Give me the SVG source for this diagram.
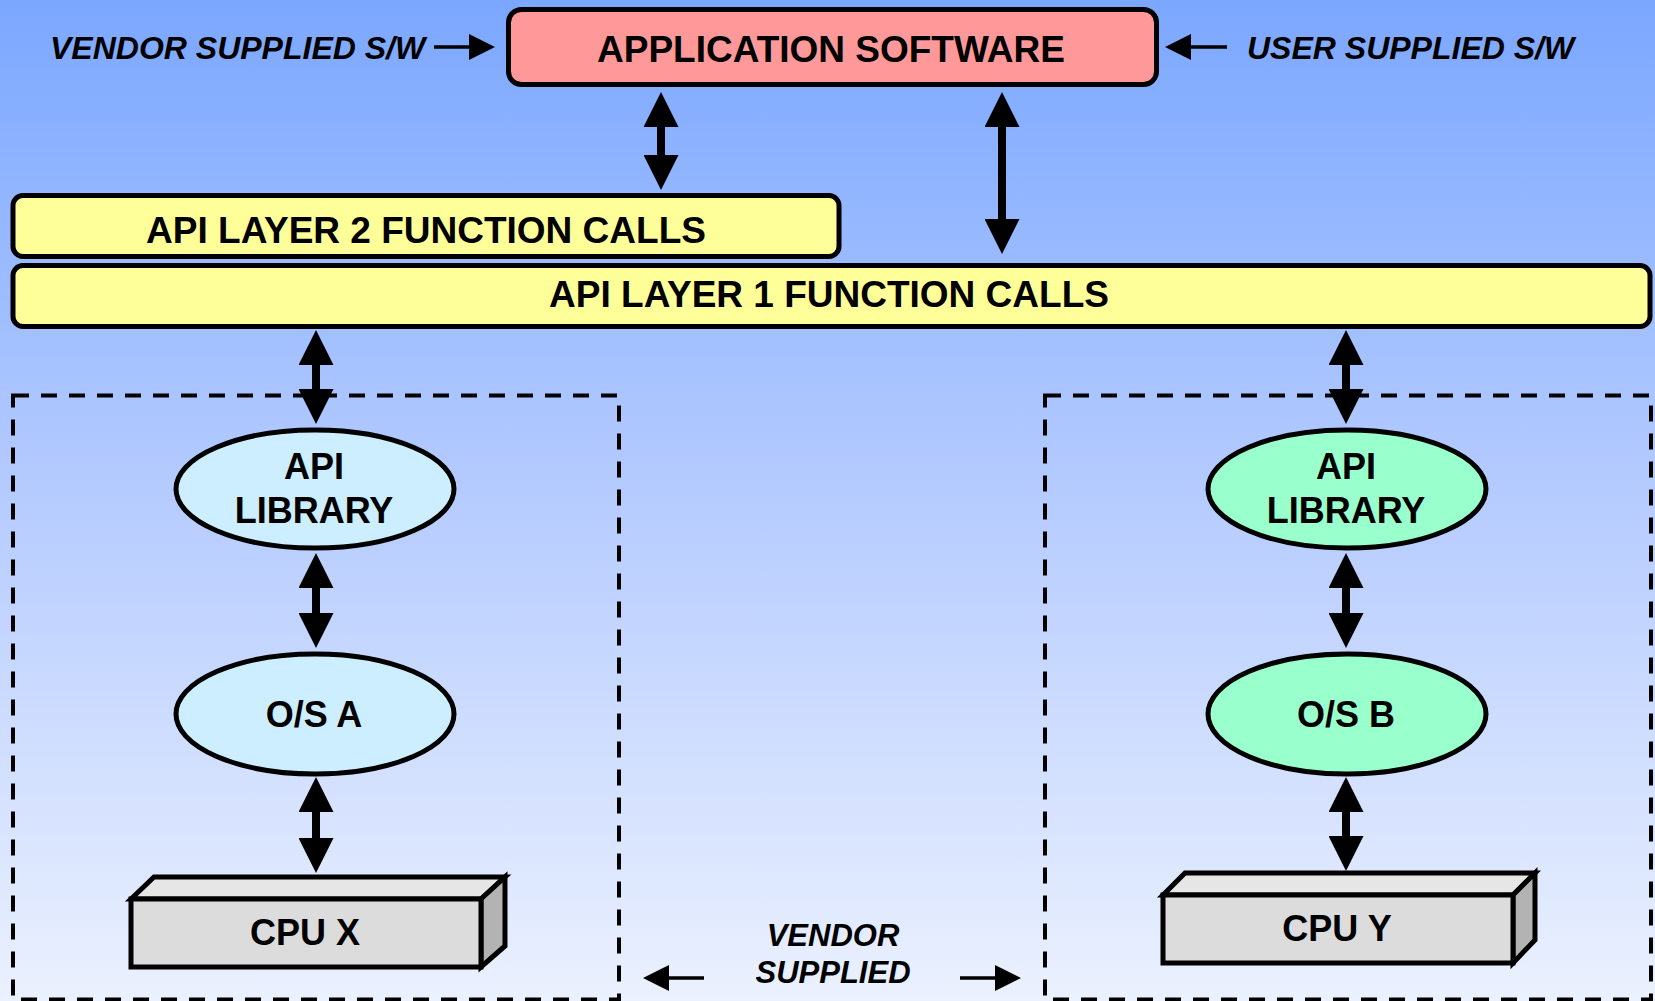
<svg xmlns="http://www.w3.org/2000/svg" width="1655" height="1001" viewBox="0 0 1655 1001">
<defs>
<linearGradient id="bg" x1="0" y1="0" x2="0" y2="1">
<stop offset="0" stop-color="#7ba7ff"/>
<stop offset="0.5" stop-color="#b6ccff"/>
<stop offset="1" stop-color="#ebf1fe"/>
</linearGradient>
<marker id="big" viewBox="0 0 35 35" markerUnits="userSpaceOnUse" markerWidth="35" markerHeight="35" refX="13" refY="17.5" orient="auto-start-reverse">
<path d="M0,0 L35,17.5 L0,35 Z" fill="#000"/>
</marker>
<marker id="small" viewBox="0 0 26 26" markerUnits="userSpaceOnUse" markerWidth="26" markerHeight="26" refX="8" refY="13" orient="auto">
<path d="M0,0 L26,13 L0,26 Z" fill="#000"/>
</marker>
<style>
.t{font-family:"Liberation Sans",Arial,sans-serif;font-weight:bold;fill:#000;text-anchor:middle}
.it{font-family:"Liberation Sans",Arial,sans-serif;font-weight:bold;font-style:italic;fill:#000}
.box{stroke:#000;stroke-width:5}
.dash{fill:none;stroke:#000;stroke-width:4;stroke-dasharray:16 12}
.conn{stroke:#000;stroke-width:8;fill:none;marker-start:url(#big);marker-end:url(#big)}
.sconn{stroke:#000;stroke-width:3.5;fill:none;marker-end:url(#small)}
.cpu{stroke:#000;stroke-width:5;stroke-linejoin:miter}
</style>
</defs>
<rect x="0" y="0" width="1655" height="1001" fill="url(#bg)"/>

<g id="vendor-boundaries">
<rect class="dash" x="13" y="395.5" width="606" height="604"/>
<rect class="dash" x="1045" y="395.5" width="606" height="604"/>
</g>

<g id="connectors">
<line class="conn" x1="661" y1="114" x2="661" y2="168"/>
<line class="conn" x1="1002" y1="114" x2="1002" y2="232"/>
<line class="conn" x1="316" y1="352" x2="316" y2="402"/>
<line class="conn" x1="316" y1="575" x2="316" y2="626"/>
<line class="conn" x1="316" y1="799" x2="316" y2="851"/>
<line class="conn" x1="1346" y1="352" x2="1346" y2="402"/>
<line class="conn" x1="1346" y1="575" x2="1346" y2="626"/>
<line class="conn" x1="1346" y1="799" x2="1346" y2="849"/>
<line class="sconn" x1="434" y1="47" x2="477" y2="47"/>
<line class="sconn" x1="1227" y1="47" x2="1183" y2="47"/>
<line class="sconn" x1="704" y1="978" x2="661" y2="978"/>
<line class="sconn" x1="960" y1="978" x2="1003" y2="978"/>
</g>

<g id="app-software">
<rect class="box" x="508.5" y="9.5" width="648" height="75" rx="13" fill="#ff9999"/>
<text class="t" x="831" y="62" font-size="37">APPLICATION SOFTWARE</text>
</g>

<g id="vendor-sw-label">
<text class="it" x="50" y="59" font-size="32">VENDOR SUPPLIED S/W</text>
</g>
<g id="user-sw-label">
<text class="it" x="1247" y="59" font-size="32">USER SUPPLIED S/W</text>
</g>

<g id="api-layer-2">
<rect class="box" x="13" y="195.5" width="826" height="61" rx="10" fill="#ffff99"/>
<text class="t" x="426" y="243" font-size="37">API LAYER 2 FUNCTION CALLS</text>
</g>

<g id="api-layer-1">
<rect class="box" x="13" y="265.5" width="1637" height="61" rx="10" fill="#ffff99"/>
<text class="t" x="829" y="307" font-size="37">API LAYER 1 FUNCTION CALLS</text>
</g>

<g id="api-library-a">
<ellipse class="box" cx="315" cy="489" rx="139" ry="59" fill="#cceeff"/>
<text class="t" x="314" y="479" font-size="36">API</text>
<text class="t" x="314" y="523" font-size="36">LIBRARY</text>
</g>

<g id="os-a">
<ellipse class="box" cx="315" cy="714" rx="139" ry="60" fill="#cceeff"/>
<text class="t" x="314" y="727" font-size="36">O/S A</text>
</g>

<g id="cpu-x">
<polygon class="cpu" points="131,899 154,877 505,877 481,899" fill="#e6e6e6"/>
<polygon class="cpu" points="481,899 505,877 505,946 481,967" fill="#b3b3b3"/>
<rect class="cpu" x="131" y="899" width="350" height="68" fill="#dcdcdc"/>
<text class="t" x="305" y="945" font-size="36">CPU X</text>
</g>

<g id="api-library-b">
<ellipse class="box" cx="1347" cy="489" rx="139" ry="59" fill="#99ffcc"/>
<text class="t" x="1346" y="479" font-size="36">API</text>
<text class="t" x="1346" y="523" font-size="36">LIBRARY</text>
</g>

<g id="os-b">
<ellipse class="box" cx="1347" cy="714" rx="139" ry="60" fill="#99ffcc"/>
<text class="t" x="1346" y="727" font-size="36">O/S B</text>
</g>

<g id="cpu-y">
<polygon class="cpu" points="1163,895 1185,873 1535,873 1513,895" fill="#e6e6e6"/>
<polygon class="cpu" points="1513,895 1535,873 1535,940 1513,963" fill="#b3b3b3"/>
<rect class="cpu" x="1163" y="895" width="350" height="68" fill="#dcdcdc"/>
<text class="t" x="1337" y="941" font-size="36">CPU Y</text>
</g>

<g id="vendor-supplied-label">
<text class="it" x="833" y="946" font-size="31" text-anchor="middle">VENDOR</text>
<text class="it" x="833" y="983" font-size="31" text-anchor="middle">SUPPLIED</text>
</g>
</svg>
